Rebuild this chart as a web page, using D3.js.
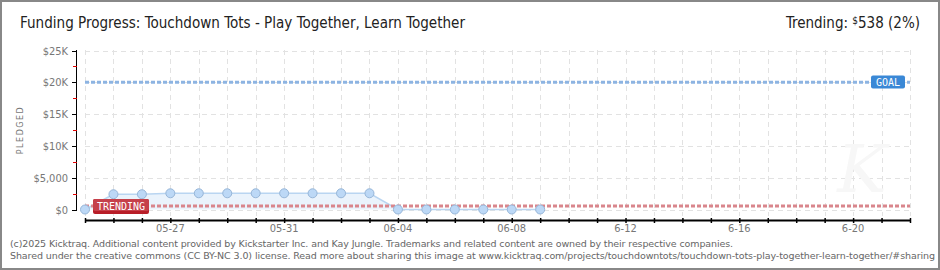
<!DOCTYPE html>
<html>
<head>
<meta charset="utf-8">
<script src="https://cdn.jsdelivr.net/npm/d3@7"></script>
<style>
  body { margin: 0; background: #fff; }
  svg { display: block; }
</style>
</head>
<body>
<div id="chart"></div>
<script>
// chart data
var dates = ["2025-05-24", "2025-05-25", "2025-05-26", "2025-05-27", "2025-05-28", "2025-05-29",
             "2025-05-30", "2025-05-31", "2025-06-01", "2025-06-02", "2025-06-03", "2025-06-04",
             "2025-06-05", "2025-06-06", "2025-06-07", "2025-06-08", "2025-06-09"];
var pledged = [0, 2400, 2400, 2550, 2550, 2550, 2550, 2550, 2550, 2550, 2550, 0, 0, 0, 0, 0, 0];
var goal = 20000;
var trending = 538;
var xStart = "2025-05-24", xEnd = "2025-06-22";
var xLabelDates = ["2025-05-27", "2025-05-31", "2025-06-04", "2025-06-08", "2025-06-12", "2025-06-16", "2025-06-20"];
var xLabels = ["05-27", "05-31", "06-04", "06-08", "6-12", "6-16", "6-20"];
var yTicks = [0, 5000, 10000, 15000, 20000, 25000];
var yLabels = ["$0", "$5,000", "$10K", "$15K", "$20K", "$25K"];
var yMinor = [2500, 7500, 12500, 17500, 22500];

var W = 940, H = 270;
var parse = d3.utcParse("%Y-%m-%d");
var data = dates.map(function(d, i) { return {date: parse(d), value: pledged[i]}; });

var svg = d3.select("#chart").append("svg")
    .attr("width", W)
    .attr("height", H);

// outer frame
svg.append("rect")
    .attr("x", 1).attr("y", 1)
    .attr("width", W - 2).attr("height", H - 2)
    .attr("fill", "#fff")
    .attr("stroke", "#888")
    .attr("stroke-width", 2);

var x = d3.scaleUtc()
    .domain([parse(xStart), parse(xEnd)])
    .range([85, 910]);

var y = d3.scaleLinear()
    .domain([0, 25000])
    .range([209.5, 50.5]);

var days = d3.utcDay.range(parse(xStart), d3.utcDay.offset(parse(xEnd), 1));

// grid
var grid = svg.append("g")
    .attr("stroke", "#e2e2e2")
    .attr("stroke-width", 1)
    .attr("stroke-dasharray", "5,4");
grid.selectAll("line.v")
  .data(days)
  .enter().append("line")
    .attr("x1", function(d) { return Math.round(x(d)) + 0.5; })
    .attr("x2", function(d) { return Math.round(x(d)) + 0.5; })
    .attr("y1", 50)
    .attr("y2", 216);
grid.selectAll("line.h")
  .data(yTicks)
  .enter().append("line")
    .attr("x1", 85)
    .attr("x2", 910)
    .attr("y1", function(d) { return Math.round(y(d)) + 0.5; })
    .attr("y2", function(d) { return Math.round(y(d)) + 0.5; });

// faint watermark
svg.append("text")
    .attr("x", 862).attr("y", 192)
    .attr("text-anchor", "middle")
    .attr("font-family", "DejaVu Serif")
    .attr("font-style", "italic")
    .attr("font-size", 66)
    .attr("fill", "#f7f7f7")
    .text("K");

// area + line
var area = d3.area()
    .x(function(d) { return x(d.date); })
    .y0(y(0))
    .y1(function(d) { return y(d.value); });
svg.append("path")
    .datum(data)
    .attr("d", area)
    .attr("fill", "#eaf3fc");

var line = d3.line()
    .x(function(d) { return x(d.date); })
    .y(function(d) { return y(d.value); });
svg.append("path")
    .datum(data)
    .attr("d", line)
    .attr("fill", "none")
    .attr("stroke", "#b9d5f1")
    .attr("stroke-width", 1.5);

// goal line
svg.append("line")
    .attr("x1", 85).attr("x2", 910)
    .attr("y1", y(goal)).attr("y2", y(goal))
    .attr("stroke", "#8db4e2")
    .attr("stroke-width", 3)
    .attr("stroke-dasharray", "4,2");

// trending line
svg.append("line")
    .attr("x1", 85).attr("x2", 910)
    .attr("y1", y(trending)).attr("y2", y(trending))
    .attr("stroke", "#d9868c")
    .attr("stroke-width", 3)
    .attr("stroke-dasharray", "4,2");

// points
svg.append("g")
  .selectAll("circle")
  .data(data)
  .enter().append("circle")
    .attr("cx", function(d) { return x(d.date); })
    .attr("cy", function(d) { return y(d.value); })
    .attr("r", 4.5)
    .attr("fill", "#bcd8f6")
    .attr("stroke", "#97b6d8")
    .attr("stroke-width", 1);

// goal badge
svg.append("rect")
    .attr("x", 871).attr("y", 75.5)
    .attr("width", 34).attr("height", 13)
    .attr("rx", 2)
    .attr("fill", "#3a88d6");
svg.append("text")
    .attr("x", 888).attr("y", 86)
    .attr("text-anchor", "middle")
    .attr("font-family", "DejaVu Sans Mono")
    .attr("font-size", 10)
    .attr("fill", "#fff")
    .text("GOAL");

// trending badge
svg.append("rect")
    .attr("x", 93).attr("y", 199)
    .attr("width", 56).attr("height", 15)
    .attr("rx", 2)
    .attr("fill", "#b81d27");
svg.append("rect")
    .attr("x", 93).attr("y", 199)
    .attr("width", 56).attr("height", 12)
    .attr("rx", 2)
    .attr("fill", "#c6404a");
svg.append("text")
    .attr("x", 121).attr("y", 209.5)
    .attr("text-anchor", "middle")
    .attr("font-family", "DejaVu Sans Mono")
    .attr("font-size", 10)
    .attr("fill", "#fff")
    .attr("textLength", 48)
    .text("TRENDING");

// y axis
svg.append("line")
    .attr("x1", 76.5).attr("x2", 76.5)
    .attr("y1", 50).attr("y2", 210)
    .attr("stroke", "#000");
svg.append("g").selectAll("line")
  .data(yTicks)
  .enter().append("line")
    .attr("x1", 72).attr("x2", 77)
    .attr("y1", function(d) { return Math.round(y(d)) + 0.5; })
    .attr("y2", function(d) { return Math.round(y(d)) + 0.5; })
    .attr("stroke", "#000");
svg.append("g").selectAll("line")
  .data(yMinor)
  .enter().append("line")
    .attr("x1", 73).attr("x2", 77)
    .attr("y1", function(d) { return Math.round(y(d)) + 0.5; })
    .attr("y2", function(d) { return Math.round(y(d)) + 0.5; })
    .attr("stroke", "#e00000");
svg.append("g").selectAll("text")
  .data(yTicks)
  .enter().append("text")
    .attr("x", 68)
    .attr("y", function(d) { return y(d) + 4; })
    .attr("text-anchor", "end")
    .attr("font-family", "DejaVu Sans Condensed")
    .attr("font-size", 11)
    .attr("fill", "#777")
    .text(function(d, i) { return yLabels[i]; });

svg.append("text")
    .attr("transform", "translate(23,130) rotate(-90)")
    .attr("text-anchor", "middle")
    .attr("font-family", "DejaVu Sans")
    .attr("font-size", 8)
    .attr("letter-spacing", 1.5)
    .attr("fill", "#777")
    .text("PLEDGED");

// x axis
var xAxis = d3.axisBottom(x)
    .tickValues(days)
    .tickSize(4)
    .tickFormat("");
var gx = svg.append("g")
    .attr("transform", "translate(0,220.5)")
    .call(xAxis);
gx.select(".domain")
    .attr("d", "M85,0H910")
    .attr("stroke", "#000")
    .attr("stroke-width", 2);
gx.selectAll(".tick line")
    .attr("y1", -2.5)
    .attr("y2", 2.5)
    .attr("stroke", "#000")
    .attr("stroke-width", 1.5);

svg.append("g").selectAll("text")
  .data(xLabelDates)
  .enter().append("text")
    .attr("x", function(d) { return x(parse(d)); })
    .attr("y", 232)
    .attr("text-anchor", "middle")
    .attr("font-family", "DejaVu Sans Condensed")
    .attr("font-size", 11)
    .attr("fill", "#777")
    .text(function(d, i) { return xLabels[i]; });

// title
svg.append("text")
    .attr("x", 20).attr("y", 28)
    .attr("font-family", "DejaVu Sans Condensed")
    .attr("font-size", 15)
    .attr("fill", "#222")
    .attr("textLength", 445)
    .attr("lengthAdjust", "spacingAndGlyphs")
    .text("Funding Progress: Touchdown Tots - Play Together, Learn Together");

var tr = svg.append("text")
    .attr("x", 920).attr("y", 28)
    .attr("text-anchor", "end")
    .attr("font-family", "DejaVu Sans Condensed")
    .attr("font-size", 15)
    .attr("fill", "#222");
tr.append("tspan").text("Trending:  ");
tr.append("tspan").attr("font-size", 10).attr("dy", -4).text("$");
tr.append("tspan").attr("dy", 4).text("538 (2%)");

// footer
var foot = svg.append("g")
    .attr("font-family", "DejaVu Sans")
    .attr("font-size", 9.5)
    .attr("fill", "#666");
foot.append("text")
    .attr("x", 10).attr("y", 247)
    .attr("textLength", 723)
    .text("(c)2025 Kicktraq. Additional content provided by Kickstarter Inc. and Kay Jungle. Trademarks and related content are owned by their respective companies.");
foot.append("text")
    .attr("x", 10).attr("y", 259)
    .attr("textLength", 925)
    .text("Shared under the creative commons (CC BY-NC 3.0) license. Read more about sharing this image at www.kicktraq.com/projects/touchdowntots/touchdown-tots-play-together-learn-together/#sharing");
</script>
</body>
</html>
